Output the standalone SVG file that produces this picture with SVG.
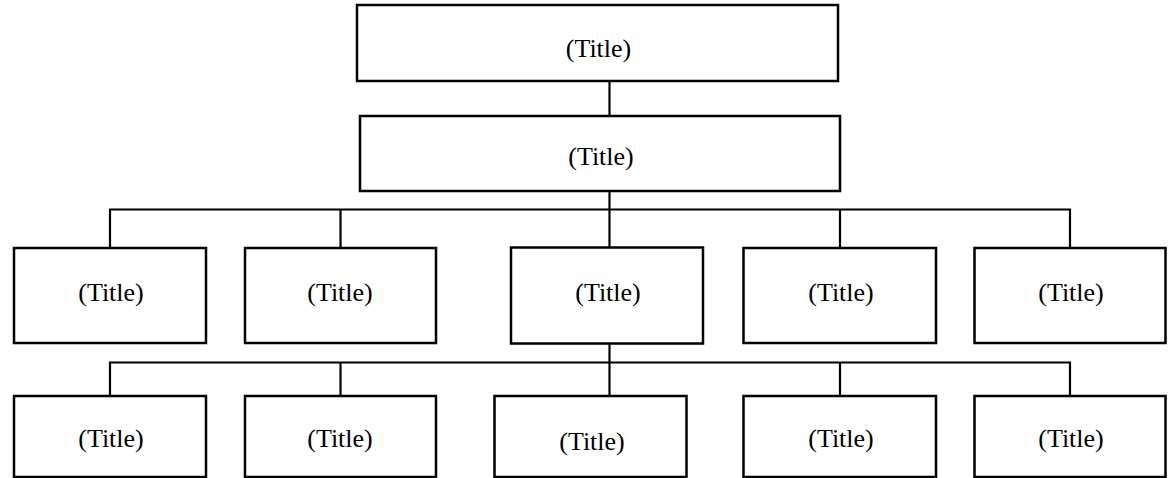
<svg xmlns="http://www.w3.org/2000/svg" width="1172" height="478" viewBox="0 0 1172 478">
<style>
.box{fill:#fff;stroke:#000;stroke-width:2.5}
.ln{fill:none;stroke:#000;stroke-width:2.2}
.t{font-family:"Liberation Serif","Times New Roman",serif;font-size:26px;fill:#000;text-anchor:middle}
</style>
<rect width="1172" height="478" fill="#fff"/>
<g id="connectors">
<line class="ln" x1="609.5" y1="81" x2="609.5" y2="116"/>
<line class="ln" x1="609.5" y1="191" x2="609.5" y2="247"/>
<polyline class="ln" points="110,248 110,209.5 1070,209.5 1070,248"/>
<line class="ln" x1="340.5" y1="209.5" x2="340.5" y2="248"/>
<line class="ln" x1="840" y1="209.5" x2="840" y2="248"/>
<line class="ln" x1="609.5" y1="343" x2="609.5" y2="400"/>
<polyline class="ln" points="110,396 110,362.5 1070,362.5 1070,396"/>
<line class="ln" x1="340.5" y1="362.5" x2="340.5" y2="396"/>
<line class="ln" x1="840" y1="362.5" x2="840" y2="396"/>
</g>
<g id="n1"><rect class="box" x="357" y="5" width="481" height="76"/><text class="t" x="598.5" y="57">(Title)</text></g>
<g id="n2"><rect class="box" x="360" y="116" width="480" height="75"/><text class="t" x="601" y="165">(Title)</text></g>
<g id="n3"><rect class="box" x="14" y="248" width="192" height="95"/><text class="t" x="111" y="301">(Title)</text></g>
<g id="n4"><rect class="box" x="245" y="248" width="191" height="95"/><text class="t" x="340" y="301">(Title)</text></g>
<g id="n5"><rect class="box" x="511" y="247.5" width="192" height="96"/><text class="t" x="608" y="301">(Title)</text></g>
<g id="n6"><rect class="box" x="743.5" y="248" width="192.5" height="95"/><text class="t" x="841" y="301">(Title)</text></g>
<g id="n7"><rect class="box" x="974.5" y="248" width="191" height="95"/><text class="t" x="1071" y="301">(Title)</text></g>
<g id="n8"><rect class="box" x="14" y="396" width="192" height="81"/><text class="t" x="111" y="447">(Title)</text></g>
<g id="n9"><rect class="box" x="245" y="396" width="191" height="81"/><text class="t" x="340" y="447">(Title)</text></g>
<g id="n10"><rect class="box" x="494.5" y="396" width="192" height="81"/><text class="t" x="592" y="450">(Title)</text></g>
<g id="n11"><rect class="box" x="743.5" y="396" width="192.5" height="81"/><text class="t" x="841" y="447">(Title)</text></g>
<g id="n12"><rect class="box" x="974.5" y="396" width="191" height="81"/><text class="t" x="1071" y="447">(Title)</text></g>
</svg>
